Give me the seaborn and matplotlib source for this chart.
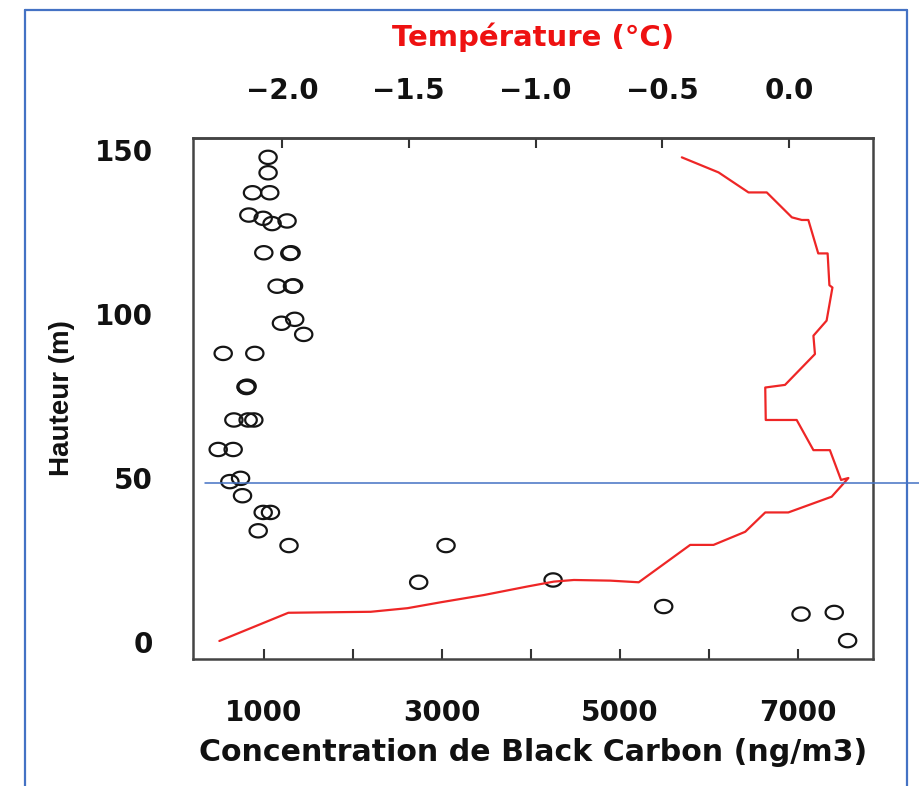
import numpy as np
import pandas as pd
import matplotlib
matplotlib.use("Agg")
import matplotlib.pyplot as plt
from matplotlib.path import Path
from matplotlib.lines import Line2D
import seaborn as sns

# ---- data ----
bc_conc = [1048, 1048, 873, 1067, 832, 993, 1093, 1261, 1000, 1292, 1306,
           1149, 1322, 1334, 1198, 1347, 1448, 544, 899, 800, 812, 806,
           664, 824, 888, 488, 656, 619, 739, 761, 993, 1075, 937, 1283,
           3046, 2739, 4248, 5490, 7032, 7405, 7555]
bc_height = [147.8, 143.1, 137.0, 137.0, 130.2, 129.2, 127.6, 128.4, 118.7, 118.5, 118.7,
             108.5, 108.5, 108.6, 97.2, 98.4, 93.8, 88.0, 88.0, 77.8, 78.0, 77.6,
             67.7, 67.7, 67.7, 58.7, 58.7, 48.9, 49.9, 44.6, 39.5, 39.5, 33.9, 29.4,
             29.4, 18.2, 18.9, 10.8, 8.5, 9.0, 0.4]

temp_c = [-2.247, -1.975, -1.65, -1.505, -1.374, -1.204, -1.033, -0.928, -0.849,
          -0.705, -0.593, -0.39, -0.298, -0.173, -0.094, -0.003, 0.168, 0.234,
          0.205, 0.161, 0.096, 0.030, -0.092, -0.094, -0.016, 0.102, 0.096,
          0.148, 0.171, 0.159, 0.152, 0.115, 0.076, 0.050, 0.011, -0.088,
          -0.160, -0.278, -0.423]
temp_height = [0.3, 8.9, 9.2, 10.3, 12.1, 14.3, 16.9, 18.4, 18.9,
               18.7, 18.2, 29.6, 29.6, 33.6, 39.5, 39.5, 44.3, 50.0,
               49.4, 58.5, 58.5, 67.7, 67.7, 77.6, 78.4, 87.8, 93.4,
               98.0, 108.1, 108.8, 118.5, 118.5, 128.7, 128.7, 129.5, 137.1,
               137.1, 143.2, 147.8]

x_ticks = [1000, 2000, 3000, 4000, 5000, 6000, 7000]
x_tick_labels = ["1000", "", "3000", "", "5000", "", "7000"]
y_ticks = [0, 50, 100, 150]
y_tick_labels = ["0", "50", "100", "150"]
t_ticks = [-2.0, -1.5, -1.0, -0.5, 0.0]
t_tick_labels = ["\u22122.0", "\u22121.5", "\u22121.0", "\u22120.5", "0.0"]

bc_df = pd.DataFrame({"bc": bc_conc, "h": bc_height})
t_df = pd.DataFrame({"t": temp_c, "h": temp_height})

# ---- style ----
sns.set_style("white")
plt.rcParams["font.family"] = ["DejaVu Sans"]
plt.rcParams["font.weight"] = "bold"
plt.rcParams["text.color"] = "#111111"
plt.rcParams["axes.labelcolor"] = "#111111"
plt.rcParams["xtick.color"] = "#111111"
plt.rcParams["ytick.color"] = "#111111"

W, H = 920, 786
fig = plt.figure(figsize=(W / 100, H / 100), dpi=100, facecolor="white")
ax = fig.add_axes([193 / W, 1 - 659 / H, (873 - 193) / W, (659 - 138) / H])

# ellipse-shaped open circle (reference is horizontally stretched)
theta = np.linspace(0, 2 * np.pi, 64)
ell = Path(np.column_stack([1.3 * np.cos(theta), np.sin(theta)]), closed=True)

sns.scatterplot(data=bc_df, x="bc", y="h", ax=ax, marker=ell, s=155,
                facecolor="none", edgecolor="#151515", linewidth=1.6, zorder=3)

ax.set_xlim(205, 7840)
ax.set_ylim(-5.2, 153.7)
ax.set_xticks(x_ticks)
ax.set_xticklabels(x_tick_labels)
ax.set_yticks(y_ticks)
ax.set_yticklabels(y_tick_labels)
ax.tick_params(axis="x", direction="in", length=7, width=1.5, color="#333333",
               pad=29, labelsize=20)
ax.tick_params(axis="y", direction="in", length=9, width=1.5, color="#333333",
               pad=29, labelsize=20)
ax.set_xlabel("Concentration de Black Carbon (ng/m3)", fontsize=21.6,
              fontweight="bold", labelpad=8)
ax.set_ylabel("Hauteur (m)", fontsize=20, fontweight="bold", labelpad=14,
              family=["Liberation Sans", "DejaVu Sans"])
for sp in ax.spines.values():
    sp.set_color("#444444")
    sp.set_linewidth(1.8)
    sp.set_visible(True)

ax2 = ax.twiny()
sns.lineplot(data=t_df, x="t", y="h", ax=ax2, sort=False, estimator=None,
             color="#EE2626", linewidth=1.6)
ax2.set_xlim(-2.351, 0.331)
ax2.set_ylim(-5.2, 153.7)
ax2.set_xticks(t_ticks)
ax2.set_xticklabels(t_tick_labels)
ax2.tick_params(axis="x", direction="in", length=7, width=1.5, color="#333333",
                pad=24, labelsize=20)
ax2.set_xlabel("Température (°C)", color="#EE1111", fontsize=21,
               fontweight="bold", labelpad=22)
ax2.xaxis.set_label_position("top")
for name, sp in ax2.spines.items():
    sp.set_visible(name == "top")
    sp.set_color("#444444")
    sp.set_linewidth(1.8)
ax2.set_ylabel("")

# ---- blue frame and horizontal line from the source document ----
blue = "#4472C4"
fig.add_artist(Line2D([25 / W, 25 / W], [1 - 10 / H, 0], transform=fig.transFigure,
                      color=blue, lw=1.6))
fig.add_artist(Line2D([907 / W, 907 / W], [1 - 10 / H, 0], transform=fig.transFigure,
                      color=blue, lw=1.6))
fig.add_artist(Line2D([25 / W, 907 / W], [1 - 10 / H, 1 - 10 / H],
                      transform=fig.transFigure, color=blue, lw=1.6))
fig.add_artist(Line2D([205 / W, 1.0], [1 - 483 / H, 1 - 483 / H],
                      transform=fig.transFigure, color=blue, lw=1.1))

fig.savefig("out.png", dpi=100, facecolor="white")
